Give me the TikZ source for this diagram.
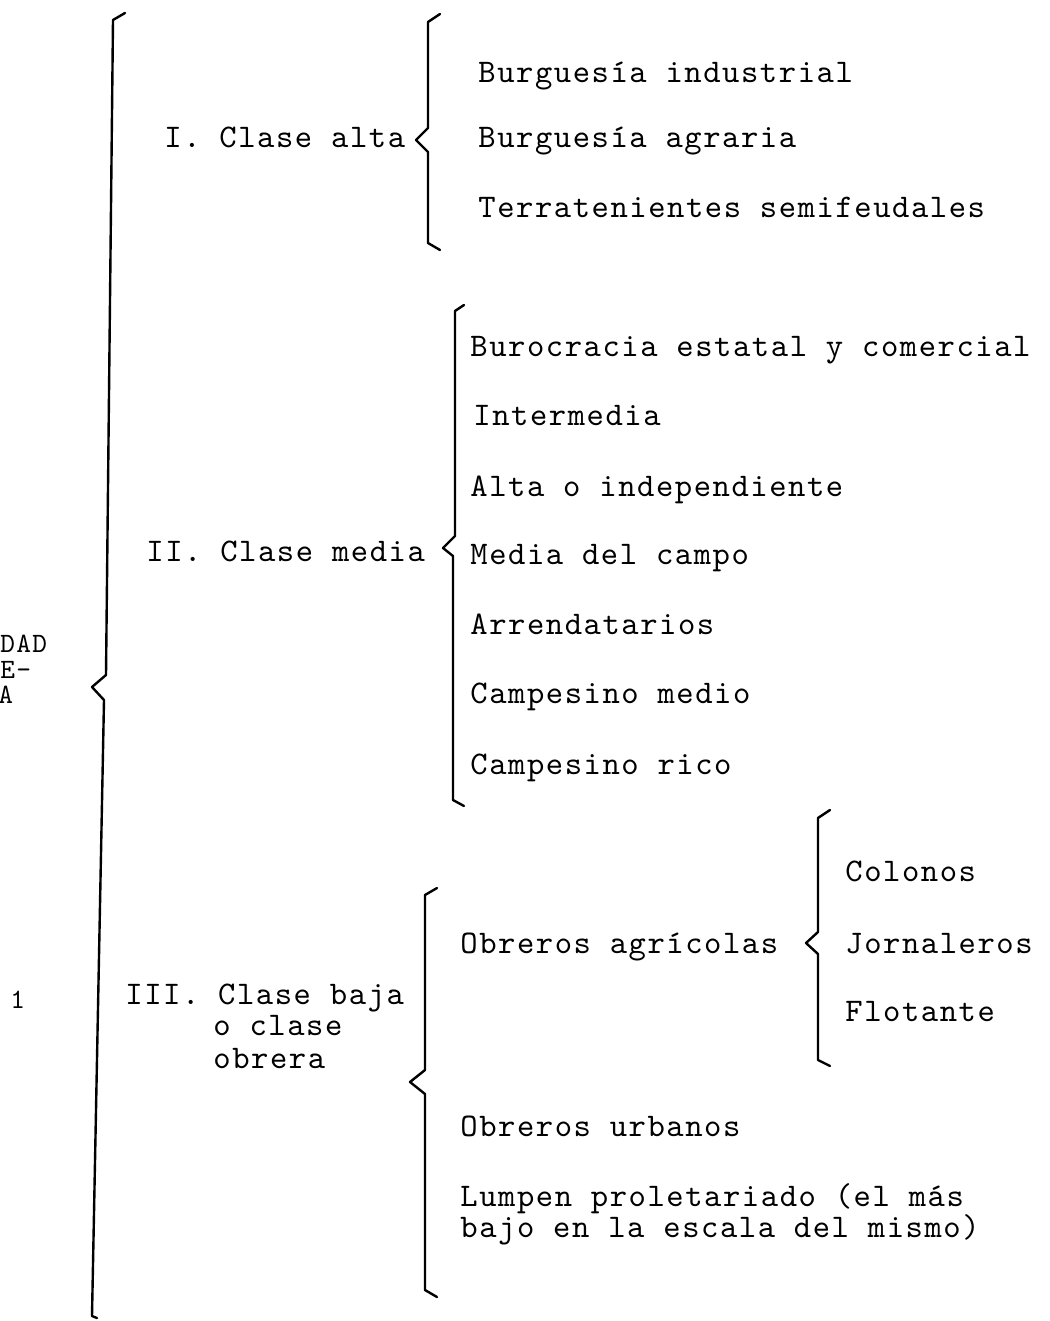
\documentclass[tikz,border=0pt]{standalone}
\usepackage{fontspec}
\newfontfamily\twfont{lmmono10-regular.otf}[LetterSpace=4.7]
\begin{document}
\begin{tikzpicture}[x=0.5pt,y=-0.5pt,
  txt/.style={anchor=base west,inner sep=0pt,font=\twfont\fontsize{16.5}{18}\selectfont},
  cut/.style={anchor=base west,inner sep=0pt,font=\twfont\fontsize{14}{16}\selectfont},
  brace/.style={line width=1.2pt,line join=round,line cap=round}]
\useasboundingbox (0,0) rectangle (1049,1321);

% left cut-off title
\node[cut] (t1) at (0,652) {DAD};
\node[cut] (t2) at (0,678) {E-};
\node[cut] (t3) at (-2,703) {A};
\node[cut] (t4) at (10,1008) {1};

% main brace
\draw[brace] (125,13) -- (113,20) -- (106,675) -- (92,687) -- (104,700) -- (92,1316) -- (97,1318);

% I. Clase alta
\node[txt] (c1) at (164,148) {I. Clase alta};
\draw[brace] (440,14) -- (428,22) -- (428,128) -- (416,140) -- (428,152) -- (428,243) -- (440,250);
\node[txt] (a1) at (478,83) {Burguesía industrial};
\node[txt] (a2) at (478,148) {Burguesía agraria};
\node[txt] (a3) at (478,218) {Terratenientes semifeudales};

% II. Clase media
\node[txt] (c2) at (146,561) {II. Clase media};
\draw[brace] (464,305) -- (455,311) -- (455,536) -- (443,548) -- (453,556) -- (453,800) -- (464,806);
\node[txt] (b1) at (470,356) {Burocracia estatal y comercial};
\node[txt] (b2) at (473,425) {Intermedia};
\node[txt] (b3) at (470,496) {Alta o independiente};
\node[txt] (b4) at (470,564) {Media del campo};
\node[txt] (b5) at (470,634) {Arrendatarios};
\node[txt] (b6) at (470,703) {Campesino medio};
\node[txt] (b7) at (470,774) {Campesino rico};

% III. Clase baja
\node[txt] (c3) at (125,1004) {III. Clase baja};
\node[txt] (c3b) at (213,1035) {o clase};
\node[txt] (c3c) at (213,1068) {obrera};
\draw[brace] (437,888) -- (425,895) -- (425,1070) -- (410,1082) -- (425,1094) -- (425,1290) -- (437,1297);
\node[txt] (d1) at (460,953) {Obreros agrícolas};
\node[txt] (d2) at (460,1136) {Obreros urbanos};
\node[txt] (d3) at (460,1206) {Lumpen proletariado (el más};
\node[txt] (d4) at (460,1237) {bajo en la escala del mismo)};

% Obreros agrícolas
\draw[brace] (830,810) -- (818,818) -- (818,932) -- (806,943) -- (818,954) -- (818,1060) -- (830,1066);
\node[txt] (e1) at (845,881) {Colonos};
\node[txt] (e2) at (845,953) {Jornaleros};
\node[txt] (e3) at (845,1021) {Flotante};
\end{tikzpicture}
\end{document}
